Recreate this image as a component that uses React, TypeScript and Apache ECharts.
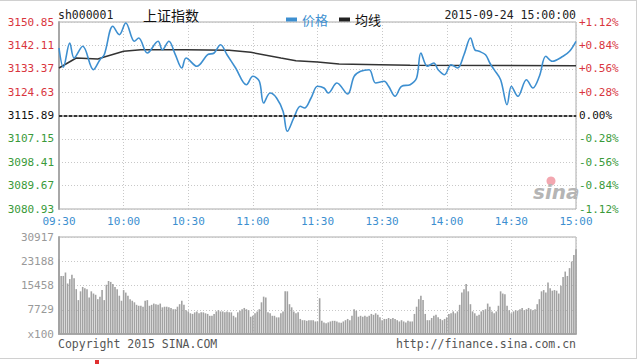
import React, { useEffect, useRef } from "react";
import * as echarts from "echarts";

const PREV_CLOSE = 3115.89;
const timeLabels = ["09:30", "10:00", "10:30", "11:00", "11:30", "13:30", "14:00", "14:30", "15:00"];
const priceTicks = [3080.93, 3089.67, 3098.41, 3107.15, 3115.89, 3124.63, 3133.37, 3142.11, 3150.85];
const volTicks = [0, 7729, 15458, 23188, 30917];

// minute index (0..240) and price
const priceIdx = [0, 2, 5, 7, 11, 16, 19, 21, 25, 28, 31, 35, 37, 41, 46, 48, 51, 54, 57, 59, 64, 69, 72, 75, 78, 82, 87, 90, 93, 95, 98, 101, 104, 106, 109, 112, 114, 117, 120, 123, 125, 129, 134, 137, 140, 144, 147, 151, 153, 156, 159, 163, 166, 168, 171, 174, 176, 179, 182, 185, 188, 191, 193, 195, 198, 200, 202, 205, 208, 210, 213, 217, 220, 223, 226, 229, 234, 237, 240];
const price = [3141.13, 3133.91, 3143.0, 3137.39, 3141.76, 3133.02, 3136.75, 3138.62, 3149.24, 3146.1, 3150.48, 3143.63, 3144.87, 3139.26, 3143.63, 3140.49, 3143.63, 3138.62, 3133.65, 3137.39, 3134.29, 3138.62, 3139.26, 3142.36, 3138.62, 3133.65, 3127.41, 3130.55, 3128.68, 3120.56, 3124.3, 3122.43, 3117.46, 3109.98, 3114.96, 3119.33, 3118.7, 3122.43, 3126.81, 3126.17, 3124.3, 3128.04, 3123.93, 3130.55, 3132.42, 3133.02, 3128.04, 3128.68, 3126.81, 3123.07, 3126.81, 3127.41, 3129.91, 3139.26, 3134.29, 3135.52, 3133.02, 3131.14, 3134.88, 3133.65, 3138.62, 3144.87, 3140.49, 3139.89, 3138.62, 3135.52, 3133.02, 3129.28, 3119.93, 3126.81, 3123.07, 3129.28, 3126.17, 3130.55, 3138.03, 3136.16, 3138.03, 3139.89, 3143.63];

const avgIdx = [0, 8, 18, 21, 30, 38, 59, 79, 89, 103, 110, 120, 130, 149, 163, 240];
const avgPrice = [3133.65, 3137.39, 3137.02, 3137.76, 3139.89, 3140.49, 3140.49, 3140.27, 3139.52, 3137.39, 3136.38, 3135.89, 3135.15, 3134.88, 3134.66, 3134.51];

// per-minute volume (x100), minutes 0..240
const volume = [
  23800, 18500, 18500, 19600, 16100, 17500, 18900, 17800, 14300, 10800,
  13600, 15000, 14600, 14300, 11600, 13600, 12900, 12500, 11100, 11900,
  14000, 10800, 15700, 16900, 16600, 15900, 15000, 14300, 12200, 10600,
  14000, 13200, 12200, 11100, 10600, 10100, 9300, 9000, 9000, 8700,
  10600, 10800, 9000, 9300, 9700, 9500, 9300, 9700, 8500, 8700,
  8700, 8500, 8300, 7900, 7900, 8700, 9500, 10600, 9300, 7600,
  7200, 6600, 6400, 6900, 7200, 6600, 6900, 6900, 6600, 6400,
  5800, 5800, 6400, 7200, 7600, 7200, 7200, 6900, 7200, 6900,
  6900, 5800, 5300, 6900, 7400, 7900, 8300, 7900, 7600, 5500,
  5800, 6600, 7200, 7900, 10100, 11900, 11600, 6900, 6600, 5800,
  5800, 5300, 5300, 6600, 7200, 13600, 13600, 9500, 8500, 7200,
  6600, 6900, 4800, 4400, 4400, 4200, 4400, 4400, 4400, 4000,
  4000, 11400, 4200, 3700, 3400, 3700, 4000, 4200, 4200, 4000,
  3700, 3600, 4000, 4400, 4800, 4400, 5800, 7900, 7400, 5500,
  5800, 5500, 5800, 5500, 5800, 6400, 6100, 6600, 6100, 5300,
  4400, 4800, 4800, 5100, 4800, 5100, 4800, 4400, 4000, 4400,
  4000, 3700, 4200, 4000, 4000, 6400, 8700, 11100, 12200, 10800,
  6400, 4400, 4400, 5100, 5800, 6100, 5300, 4800, 4400, 4800,
  5300, 6400, 6600, 7200, 6600, 7200, 9300, 13200, 14300, 15900,
  13600, 9500, 7200, 6600, 5800, 6100, 7200, 7600, 7900, 9700,
  8700, 7200, 6600, 7200, 9000, 13600, 12900, 12700, 9000, 7600,
  6600, 7200, 7600, 7400, 7900, 8300, 7600, 7900, 8300, 7900,
  7600, 7900, 9500, 11100, 13600, 14000, 13200, 16400, 14600, 13800,
  14000, 13800, 12900, 15400, 18200, 19900, 18500, 21000, 23100, 25200,
  27000,
];

const MONO = "'DejaVu Sans Mono', 'Liberation Mono', monospace";
const CJK = "'Noto Sans CJK SC', sans-serif";
const RED = "#d9363e";
const GREEN = "#3a9a3a";
const BLUE = "#3d8fd0";
const GRID_LINE = { show: true, lineStyle: { color: "#c8c8c8", type: [1, 2] as any, width: 1 } };

export default function App() {
  const ref = useRef<HTMLDivElement>(null);
  useEffect(() => {
    if (!ref.current) return;
    const chart = echarts.init(ref.current, undefined, { renderer: "svg" });
    const option: any = {
      animation: false,
      backgroundColor: "#fff",
      legend: {
        left: 281,
        top: 8,
        itemWidth: 11,
        itemHeight: 4,
        itemGap: 11,
        icon: "rect",
        textStyle: { fontSize: 13, fontFamily: CJK },
        data: [
          { name: "价格", textStyle: { color: BLUE } },
          { name: "均线", textStyle: { color: "#111" } },
        ],
      },
      grid: [
        { left: 59, right: 64, top: 22, height: 187, show: true, borderColor: "#aaa", borderWidth: 1 },
        { left: 59, right: 64, top: 237, height: 97, show: true, borderColor: "#aaa", borderWidth: 1 },
      ],
      xAxis: [
        {
          type: "value", gridIndex: 0, min: 0, max: 240, interval: 30,
          axisLine: { show: true, lineStyle: { color: "#a8a8a8", width: 2 } },
          axisTick: { show: false },
          axisLabel: {
            margin: 7, color: BLUE, fontFamily: MONO, fontSize: 11,
            formatter: (v: number) => timeLabels[Math.round(v / 30)] ?? "",
          },
          splitLine: GRID_LINE,
        },
        {
          type: "value", gridIndex: 1, min: 0, max: 240, interval: 30,
          axisLine: { show: true, lineStyle: { color: "#a8a8a8", width: 2 } },
          axisTick: { show: false },
          axisLabel: { show: false },
          splitLine: GRID_LINE,
        },
      ],
      yAxis: [
        {
          type: "value", gridIndex: 0, min: priceTicks[0], max: priceTicks[priceTicks.length - 1],
          axisLine: { show: true, lineStyle: { color: "#a8a8a8", width: 2 } },
          axisTick: { show: false, customValues: priceTicks },
          axisLabel: {
            customValues: priceTicks, margin: 5, fontFamily: MONO, fontSize: 11,
            formatter: (v: number) => Number(v).toFixed(2),
            color: (v: any) => {
              const n = Number(v);
              return Math.abs(n - PREV_CLOSE) < 0.001 ? "#111" : n > PREV_CLOSE ? RED : GREEN;
            },
          },
          splitLine: GRID_LINE,
        },
        {
          type: "value", gridIndex: 0, position: "right", min: -1.12, max: 1.12, interval: 0.28,
          axisLine: { show: false },
          axisTick: { show: false },
          axisLabel: {
            margin: 3, fontFamily: MONO, fontSize: 11,
            formatter: (v: number) => {
              const n = Number(v);
              if (Math.abs(n) < 1e-6) return "0.00%";
              return (n > 0 ? "+" : "") + n.toFixed(2) + "%";
            },
            color: (v: any) => {
              const n = Number(v);
              return Math.abs(n) < 1e-6 ? "#111" : n > 0 ? RED : GREEN;
            },
          },
          splitLine: { show: false },
        },
        {
          type: "value", gridIndex: 1, min: 0, max: volTicks[volTicks.length - 1],
          axisLine: { show: true, lineStyle: { color: "#a8a8a8", width: 2 } },
          axisTick: { show: false, customValues: volTicks },
          axisLabel: {
            customValues: volTicks, margin: 5, fontFamily: MONO, fontSize: 11, color: "#999",
            formatter: (v: number) => (Number(v) === 0 ? "x100" : String(v)),
          },
          splitLine: GRID_LINE,
        },
      ],
      series: [
        {
          name: "价格", type: "line", xAxisIndex: 0, yAxisIndex: 0,
          data: priceIdx.map((m, i) => [m, price[i]]),
          smooth: 0.35, showSymbol: false, symbol: "none",
          lineStyle: { color: BLUE, width: 1.6 }, itemStyle: { color: BLUE },
          markLine: {
            silent: true, symbol: ["none", "none"], label: { show: false },
            lineStyle: { color: "#111", type: [3, 2], width: 1.5 },
            data: [{ yAxis: PREV_CLOSE }],
          },
          z: 3,
        },
        {
          name: "均线", type: "line", xAxisIndex: 0, yAxisIndex: 0,
          data: avgIdx.map((m, i) => [m, avgPrice[i]]),
          showSymbol: false, symbol: "none",
          lineStyle: { color: "#333", width: 1.5 }, itemStyle: { color: "#222" },
          z: 2,
        },
        {
          name: "成交量", type: "bar", xAxisIndex: 1, yAxisIndex: 2,
          data: volume.map((v, i) => [i, v]),
          barWidth: 1.6,
          itemStyle: { color: "#a2a2a2" },
        },
      ],
      graphic: [
        { type: "line", shape: { x1: 0, y1: 0.5, x2: 637, y2: 0.5 }, style: { stroke: "#d0d0d0", lineWidth: 1 } },
        { type: "line", shape: { x1: 636.5, y1: 0, x2: 636.5, y2: 358 }, style: { stroke: "#d0d0d0", lineWidth: 1 } },
        { type: "line", shape: { x1: 0, y1: 358.5, x2: 637, y2: 358.5 }, style: { stroke: "#d0d0d0", lineWidth: 1 } },
        { type: "rect", shape: { x: 95, y: 360, width: 4, height: 4 }, style: { fill: "#e03030" } },
        { type: "text", x: 58, y: 15, style: { text: "sh000001", font: `11.5px ${MONO}`, fill: "#222", verticalAlign: "middle" } },
        { type: "text", x: 143, y: 15, style: { text: "上证指数", font: `14px ${CJK}`, fill: "#111", verticalAlign: "middle" } },
        { type: "text", x: 576, y: 15, style: { text: "2015-09-24 15:00:00", font: `11.5px ${MONO}`, fill: "#222", align: "right", verticalAlign: "middle" } },
        { type: "text", x: 58, y: 344, style: { text: "Copyright 2015 SINA.COM", font: `11.5px ${MONO}`, fill: "#555", verticalAlign: "middle" } },
        { type: "text", x: 576, y: 344, style: { text: "http://finance.sina.com.cn", font: `11.5px ${MONO}`, fill: "#555", align: "right", verticalAlign: "middle" } },
        { type: "circle", shape: { cx: 551, cy: 181, r: 4.5 }, style: { fill: "#f3a7b0" } },
        { type: "text", x: 533, y: 192, style: { text: "sina", font: `italic bold 20px 'DejaVu Sans', sans-serif`, fill: "#b5b5b5", verticalAlign: "middle" } },
      ],
    };
    chart.setOption(option);
    return () => chart.dispose();
  }, []);
  return <div ref={ref} style={{ position: "absolute", left: 0, top: 0, width: 640, height: 364 }} />;
}
